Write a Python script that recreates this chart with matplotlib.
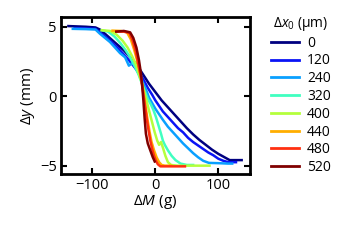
import numpy as np
import matplotlib
matplotlib.use('Agg')
import matplotlib.pyplot as plt

plt.rcParams['font.family'] = ['Open Sans', 'DejaVu Sans']
plt.rcParams['mathtext.fontset'] = 'custom'
plt.rcParams['mathtext.rm'] = 'Open Sans'
plt.rcParams['mathtext.it'] = 'Open Sans:italic'

# offsets dx0 in um and their colours
offsets = [0, 120, 240, 320, 400, 440, 480, 520]
colors = ['#000080', '#0a14f5', '#0aa0ff', '#40ffc0', '#b4ff3c', '#ffae00', '#ff3010', '#800000']

# mass change (g) vs displacement (mm)
dM_0 = [-138, -110, -95, -88, -80, -70, -60, -50, -40, -30, -20, -10, 0, 10, 20, 30, 40,
        50, 60, 70, 80, 90, 100, 110, 118, 128, 137]
dy_0 = [5.05, 5.0, 4.95, 4.8, 4.5, 4.1, 3.7, 3.3, 2.8, 2.3, 1.6, 0.9, 0.3, -0.3, -0.8, -1.3, -1.8,
        -2.3, -2.75, -3.15, -3.5, -3.85, -4.15, -4.4, -4.6, -4.6, -4.6]

dM_120 = [-128, -110, -95, -88, -80, -72, -65, -58, -50, -42, -35, -28, -20, -12, -5, 0, 6, 12,
          20, 28, 36, 44, 52, 60, 68, 76, 84, 92, 100, 108, 116, 128]
dy_120 = [4.9, 4.88, 4.85, 4.6, 4.3, 4.0, 3.7, 3.4, 3.0, 2.6, 2.2, 1.8, 1.3, 0.6, 0.1, -0.3, -0.7, -1.1,
          -1.5, -1.9, -2.3, -2.6, -3.0, -3.3, -3.55, -3.8, -4.05, -4.25, -4.5, -4.65, -4.75, -4.75]

dM_240 = [-131, -110, -95, -88, -80, -72, -64, -56, -48, -42, -36, -30, -25, -20, -15, -10, -5, 0,
          6, 12, 20, 28, 36, 44, 52, 60, 68, 76, 85, 100, 115, 122]
dy_240 = [4.85, 4.83, 4.8, 4.5, 4.2, 3.9, 3.5, 3.1, 2.8, 2.2, 2.4, 1.9, 1.5, 1.0, 0.5, -0.1, -0.5, -0.9,
          -1.3, -1.7, -2.2, -2.6, -3.0, -3.4, -3.75, -4.1, -4.4, -4.65, -4.8, -4.82, -4.85, -4.85]

dM_320 = [-85, -75, -65, -55, -47, -40, -33, -27, -22, -17, -12, -7, -3, 1, 5, 9, 12, 15, 20, 26,
          32, 40, 50, 60]
dy_320 = [4.75, 4.65, 4.3, 3.8, 3.3, 2.8, 2.2, 1.6, 1.0, 0.4, -0.2, -0.6, -1.0, -1.5, -2.1, -2.7,
          -3.2, -3.5, -3.9, -4.3, -4.6, -4.85, -4.95, -4.95]

dM_400 = [-85, -72, -62, -52, -44, -37, -31, -26, -21, -17, -13, -9, -5, -1, 3, 6, 9, 12, 16, 20,
          25, 35, 50, 70, 86]
dy_400 = [4.75, 4.7, 4.45, 4.0, 3.5, 2.9, 2.3, 1.6, 0.9, 0.2, -0.5, -1.2, -1.9, -2.6, -3.2, -3.5,
          -3.3, -3.7, -4.3, -4.75, -4.95, -5.0, -5.0, -5.0, -5.0]

dM_440 = [-68, -55, -45, -39, -34, -29, -25, -21, -18, -15, -12, -9, -6, -2, 2, 6, 10, 15, 25]
dy_440 = [4.72, 4.7, 4.6, 4.1, 3.4, 2.6, 1.8, 0.9, 0.0, -0.9, -1.8, -2.6, -3.3, -3.9, -4.4, -4.75,
          -4.95, -5.0, -5.0]

dM_480 = [-62, -50, -41, -36, -31, -27, -23, -20, -17, -14, -11, -8, -5, -2, 1, 4, 8, 15, 30, 47]
dy_480 = [4.65, 4.65, 4.55, 4.0, 3.2, 2.3, 1.4, 0.5, -0.5, -1.5, -2.4, -3.2, -3.8, -4.3, -4.65,
          -4.9, -5.05, -5.05, -5.05, -5.05]

dM_520 = [-62, -50, -40, -35, -30, -26, -23, -21, -19, -17, -15, -12, -8, -4, -1]
dy_520 = [4.65, 4.7, 4.6, 4.2, 3.5, 2.6, 1.7, 0.8, -0.3, -1.6, -2.7, -3.4, -3.9, -4.4, -4.7]

curves = [(dM_0, dy_0), (dM_120, dy_120), (dM_240, dy_240), (dM_320, dy_320),
          (dM_400, dy_400), (dM_440, dy_440), (dM_480, dy_480), (dM_520, dy_520)]

fig = plt.figure(figsize=(3.6, 2.4), dpi=100)
ax = fig.add_axes([0.169, 0.275, 0.525, 0.654])

for (x, y), off, c in zip(curves, offsets, colors):
    ax.plot(x, y, color=c, lw=1.8, label=str(off))

ax.set_xlim(-150, 150)
ax.set_ylim(-5.6, 5.7)
ax.set_xticks([-100, 0, 100])
ax.set_yticks([-5, 0, 5])
ax.tick_params(direction='in', top=True, right=True, length=4, width=1.5, labelsize=10.5, pad=3)
for s in ax.spines.values():
    s.set_linewidth(2)

ax.set_xlabel(r'$\Delta M$ (g)', fontsize=11, labelpad=0)
ax.set_ylabel(r'$\Delta y$ (mm)', fontsize=11, labelpad=2)

leg = fig.legend(loc='upper left', bbox_to_anchor=(0.718, 0.99), frameon=False,
                 fontsize=10, title=r'$\Delta x_0$ ($\mathrm{\mu}$m)', title_fontsize=10,
                 handlelength=2.0, handletextpad=0.6, labelspacing=0.2)
for line in leg.get_lines():
    line.set_linewidth(2)

fig.savefig('out.png', dpi=100)
